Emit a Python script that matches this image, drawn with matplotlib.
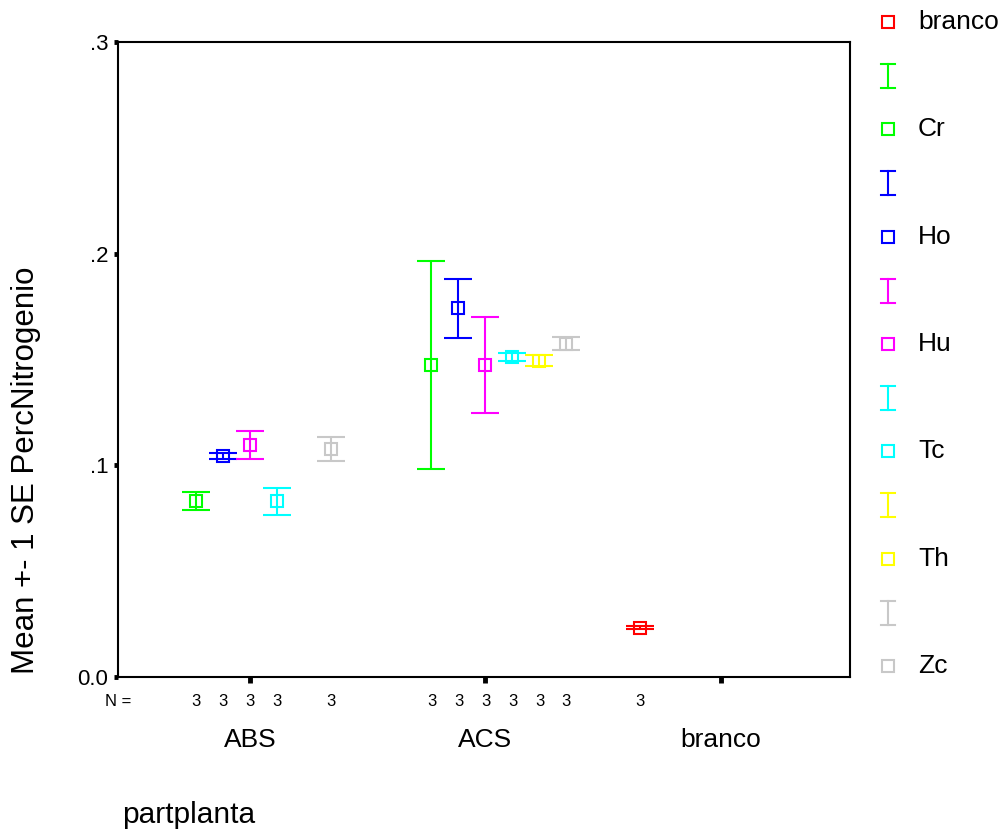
import numpy as np
import matplotlib
matplotlib.use("Agg")
import matplotlib.pyplot as plt

plt.rcParams['font.family'] = ['Liberation Sans', 'DejaVu Sans']

categories = ['ABS', 'ACS', 'branco']
series = ['branco', 'Cr', 'Ho', 'Hu', 'Tc', 'Th', 'Zc']
colors = ['#FF0000', '#00FF00', '#0000FF', '#FF00FF', '#00FFFF', '#FFFF00', '#C8C8C8']
nan = np.nan
means = {
    'branco': [nan, nan, 0.0233],
    'Cr': [0.0831, 0.1474, nan],
    'Ho': [0.1044, 0.1742, nan],
    'Hu': [0.1095, 0.1474, nan],
    'Tc': [0.0830, 0.1513, nan],
    'Th': [nan, 0.1494, nan],
    'Zc': [0.1077, 0.1575, nan],
}
ses = {
    'branco': [nan, nan, 0.0007],
    'Cr': [0.0044, 0.0493, nan],
    'Ho': [0.0015, 0.0139, nan],
    'Hu': [0.0067, 0.0227, nan],
    'Tc': [0.0063, 0.0018, nan],
    'Th': [nan, 0.0026, nan],
    'Zc': [0.0055, 0.0031, nan],
}
counts = {
    'branco': [0, 0, 3],
    'Cr': [3, 3, 0],
    'Ho': [3, 3, 0],
    'Hu': [3, 3, 0],
    'Tc': [3, 3, 0],
    'Th': [0, 3, 0],
    'Zc': [3, 3, 0],
}
yticks = [0.0, 0.1, 0.2, 0.3]
yticklabels = ['0.0', '.1', '.2', '.3']

W, H = 1007, 836
fig = plt.figure(figsize=(W / 100, H / 100), dpi=100)
ax = fig.add_axes([118 / W, 1 - 677 / H, (850 - 118) / W, (677 - 42) / H])

step = 0.1146
xc = np.arange(len(categories))
for k, s in enumerate(series):
    x = xc + (k - 3) * step
    m = np.array(means[s]); e = np.array(ses[s])
    ok = ~np.isnan(m)
    ax.errorbar(x[ok], m[ok], yerr=e[ok], fmt='s', color=colors[k], mfc='none',
                mec=colors[k], ms=8.5, mew=1.5, elinewidth=1.5, capsize=10, capthick=1.5)
    for i in range(len(categories)):
        if counts[s][i]:
            ax.annotate(str(counts[s][i]), (x[i], 0), xycoords=('data', 'axes fraction'),
                        xytext=(0, -24), textcoords='offset pixels', ha='center', va='center',
                        fontsize=12)

ax.annotate('N =', (0, 0), xycoords='axes fraction', xytext=(-13, -24), textcoords='offset pixels',
            ha='left', va='center', fontsize=12)

ax.set_xlim(-0.5605, 2.548)
ax.set_ylim(0, 0.3)
ax.set_yticks(yticks)
ax.set_yticklabels(yticklabels, fontsize=16)
ax.set_xticks(xc)
ax.set_xticklabels(categories, fontsize=19)
ax.tick_params(axis='x', direction='out', length=4.5, width=3.5, pad=32)
ax.tick_params(axis='y', direction='out', length=3, width=3.5, pad=4)
for sp in ax.spines.values():
    sp.set_linewidth(1.5)

fig.text(26 / W, 1 - 470 / H, 'Mean +- 1 SE PercNitrogenio', rotation=90, ha='center', va='center', fontsize=22.5)
fig.text(122 / W, 1 - 815 / H, 'partplanta', ha='left', va='center', fontsize=21.5)

# legend (drawn in pixel coordinates)
lax = fig.add_axes([0, 0, 1, 1], facecolor='none')
lax.set_xlim(0, W); lax.set_ylim(H, 0); lax.axis('off')
sq_y0 = 22; sp_y = 107.3
for k, s in enumerate(series):
    ys = sq_y0 + k * sp_y
    lax.plot([888], [ys], 's', ms=8, mfc='none', mec=colors[k], mew=1.5)
    lax.text(918, ys, s, ha='left', va='center', fontsize=19)
    if k < len(series) - 1:
        ye = ys + 54
        lax.plot([888, 888], [ye - 12, ye + 12], color=colors[k + 1], lw=1.5)
        lax.plot([881, 895], [ye - 12, ye - 12], color=colors[k + 1], lw=1.5)
        lax.plot([881, 895], [ye + 12, ye + 12], color=colors[k + 1], lw=1.5)

fig.savefig('out.png', dpi=100)
